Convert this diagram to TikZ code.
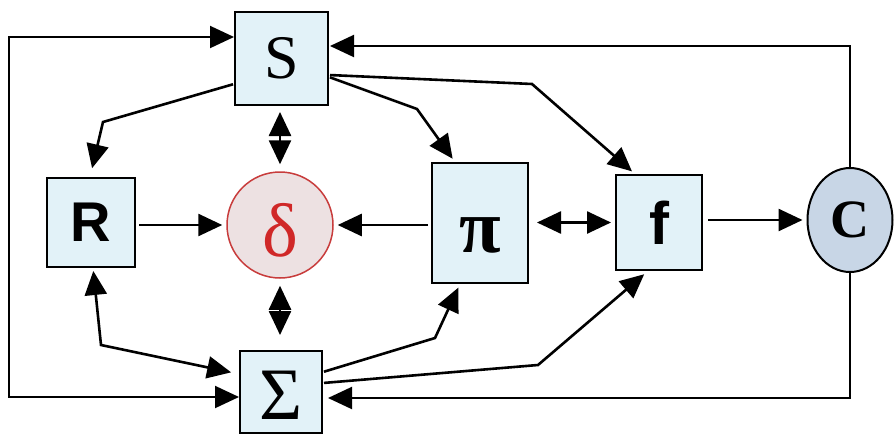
\documentclass[tikz,border=0pt]{standalone}
\usepackage{fontspec}
\setmainfont{Liberation Serif}
\newfontfamily\arialf{Liberation Sans}
\usetikzlibrary{arrows.meta,shapes.geometric}
\definecolor{boxfill}{HTML}{E2F2F8}
\definecolor{deltafill}{HTML}{EDE1E2}
\definecolor{deltaline}{HTML}{C83C3C}
\definecolor{deltatext}{HTML}{D02828}
\definecolor{cfill}{HTML}{C8D6E6}
\tikzset{
  box/.style={draw, line width=2pt, fill=boxfill, inner sep=0pt},
  arr/.style={line width=2.6pt, -{Triangle[length=24pt,width=22pt]}, shorten >=4pt, shorten <=3pt},
  dbl/.style={line width=2.6pt, {Triangle[length=24pt,width=22pt]}-{Triangle[length=24pt,width=22pt]}, shorten >=5pt, shorten <=5pt},
  loop/.style={line width=2pt, -{Triangle[length=24pt,width=22pt]}},
  loopd/.style={line width=2pt, {Triangle[length=24pt,width=22pt]}-{Triangle[length=24pt,width=22pt]}},
}
\begin{document}
\begin{tikzpicture}[x=1pt,y=-1pt]
\useasboundingbox (0,0) rectangle (895,434);
\node[box, minimum width=93pt, minimum height=93pt] (S) at (281.5,58.5) {\fontsize{62}{66}\selectfont S};
\node[box, minimum width=88pt, minimum height=89pt] (R) at (91,222.5) {\arialf\bfseries\fontsize{56}{60}\selectfont R};
\node[circle, draw=deltaline, line width=1.5pt, fill=deltafill, minimum size=106pt, inner sep=0pt,
  label={[yshift=-5pt, text=deltatext, font=\fontsize{76}{80}\selectfont]center:δ}] (D) at (280,225) {};
\node[box, minimum width=96pt, minimum height=120pt,
  label={[yshift=-12pt, font=\bfseries\fontsize{76}{80}\selectfont]center:π}] (P) at (480,223) {};
\node[box, minimum width=86pt, minimum height=95pt] (F) at (659,222.5) {\arialf\bfseries\fontsize{60}{64}\selectfont f};
\node[ellipse, draw, line width=2pt, fill=cfill, minimum width=85pt, minimum height=104pt, inner sep=0pt] (C) at (850,220) {\bfseries\fontsize{54}{58}\selectfont C};
\node[box, minimum width=82pt, minimum height=82pt,
  label={[yshift=-3pt, inner sep=0pt, font=\fontsize{74}{78}\selectfont]center:Σ}] (G) at (281,392) {};
\coordinate (lt) at (9,37);
\coordinate (lb) at (9,397);
\coordinate (rt) at (850,46);
\coordinate (rb) at (850,398);
\coordinate (b1) at (103,122);
\coordinate (b2) at (417,109);
\coordinate (b3) at (532,84);
\coordinate (b4) at (101,345);
\coordinate (b5) at (435,338);
\coordinate (b6) at (538,365);
% loops
\draw[loopd] (S.west |- lt) -- (lt) -- (lb) -- (G.west |- lb);
\draw[loop] (C.north) -- (rt) -- ([xshift=1pt]S.east |- rt);
\draw[loop] (C.south) -- (rb) -- ([xshift=5pt]G.east |- rb);
% from S
\draw[arr, shorten >=9pt, shorten <=1pt] ([yshift=-25.5pt]S.west) -- (b1) -- ([xshift=-1pt]R.north);
\draw[arr, shorten <=1pt] ([yshift=-18.5pt]S.east) -- (b2) -- ([xshift=-25pt]P.north);
\draw[arr, shorten <=1pt] ([yshift=-16.5pt]S.east) -- (b3) -- ([xshift=-24pt]F.north);
\draw[dbl, shorten <=6pt, shorten >=7pt] (S.south -| D.north) -- (D.north);
\draw[dbl, shorten <=7pt, shorten >=15pt] (D.south) -- (G.north -| D.south);
% middle row
\draw[arr] (R.east |- D.center) -- (D.west);
\draw[arr] (P.west |- D.center) -- (D.east);
\draw[dbl, shorten <=8pt, shorten >=4pt] (P.east |- F.center) -- (F.west);
\draw[arr, shorten <=5pt] (F.east |- C.center) -- (C.west);
% from Sigma
\draw[dbl, shorten <=3pt, shorten >=8pt] ([xshift=2pt]R.south) -- (b4) -- ([yshift=18pt]G.west);
\draw[arr, shorten <=1pt] ([yshift=20pt]G.east) -- (b5) -- ([xshift=-20pt]P.south);
\draw[arr, shorten <=1pt, shorten >=5pt] ([yshift=9pt]G.east) -- (b6) -- ([xshift=-11pt]F.south);
\end{tikzpicture}
\end{document}
